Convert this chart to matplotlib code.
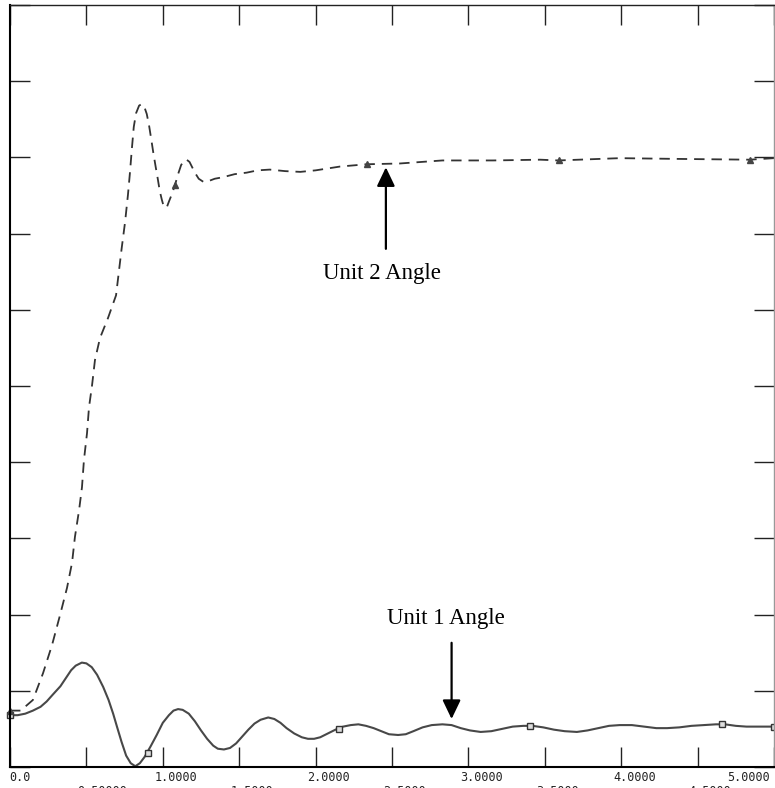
import matplotlib
matplotlib.use('Agg')
import matplotlib.pyplot as plt
from matplotlib.transforms import offset_copy

# unit 1 angle (solid)
u1_t = [0.00, 0.05, 0.10, 0.15, 0.20, 0.24, 0.28, 0.33, 0.37, 0.40, 0.43, 0.47,
        0.50, 0.535, 0.57, 0.61, 0.645, 0.675, 0.70, 0.73, 0.76, 0.79, 0.82,
        0.85, 0.88, 0.92, 0.96, 1.00, 1.04, 1.07, 1.10, 1.13, 1.17, 1.21, 1.25,
        1.29, 1.33, 1.36, 1.40, 1.44, 1.48, 1.52, 1.56, 1.60, 1.64, 1.69, 1.73,
        1.77, 1.81, 1.86, 1.91, 1.95, 1.99, 2.03, 2.08, 2.13, 2.18, 2.23, 2.28,
        2.33, 2.38, 2.43, 2.48, 2.54, 2.59, 2.64, 2.70, 2.76, 2.83, 2.89, 2.95,
        3.01, 3.08, 3.15, 3.22, 3.29, 3.36, 3.42, 3.49, 3.56, 3.63, 3.71, 3.78,
        3.85, 3.92, 3.99, 4.07, 4.15, 4.23, 4.30, 4.38, 4.46, 4.54, 4.62, 4.68,
        4.75, 4.82, 4.90, 5.00]
u1_y = [0.68, 0.68, 0.70, 0.74, 0.79, 0.86, 0.95, 1.06, 1.18, 1.27, 1.33, 1.37,
        1.36, 1.31, 1.21, 1.05, 0.88, 0.70, 0.53, 0.33, 0.15, 0.05, 0.01,
        0.05, 0.13, 0.27, 0.42, 0.58, 0.68, 0.74, 0.76, 0.75, 0.70, 0.60, 0.48,
        0.37, 0.28, 0.24, 0.23, 0.25, 0.31, 0.40, 0.49, 0.57, 0.62, 0.65, 0.63,
        0.58, 0.51, 0.44, 0.39, 0.37, 0.37, 0.39, 0.44, 0.49, 0.53, 0.55, 0.56,
        0.54, 0.51, 0.47, 0.43, 0.42, 0.43, 0.47, 0.52, 0.55, 0.56, 0.55, 0.51,
        0.48, 0.46, 0.47, 0.50, 0.53, 0.54, 0.54, 0.52, 0.49, 0.47, 0.46, 0.48,
        0.51, 0.54, 0.55, 0.55, 0.53, 0.51, 0.51, 0.52, 0.54, 0.55, 0.56, 0.56,
        0.54, 0.53, 0.53, 0.53]
u1_mark_t = [0.00, 0.90, 2.15, 3.40, 4.66, 5.00]
u1_mark_y = [0.68, 0.19, 0.50, 0.54, 0.56, 0.53]

# unit 2 angle (dashed)
u2_t = [0.00, 0.07, 0.15, 0.216, 0.275, 0.327, 0.373, 0.406, 0.425, 0.452, 0.471,
        0.484, 0.504, 0.517, 0.537, 0.556, 0.589, 0.641, 0.694, 0.731, 0.753,
        0.772, 0.785, 0.797, 0.810, 0.825, 0.845, 0.862, 0.878, 0.895, 0.910,
        0.925, 0.938, 0.953, 0.967, 0.980, 0.993, 1.004, 1.014, 1.027, 1.04,
        1.06, 1.08, 1.10, 1.12, 1.14, 1.156, 1.175, 1.19, 1.21, 1.235, 1.265,
        1.30, 1.34, 1.394, 1.47, 1.549, 1.62, 1.70, 1.80, 1.90, 2.00, 2.16,
        2.334, 2.55, 2.83, 3.16, 3.47, 3.59, 3.99, 4.38, 4.84, 5.00]
u2_y = [0.74, 0.74, 0.88, 1.23, 1.60, 1.99, 2.35, 2.68, 3.02, 3.37, 3.67,
        4.03, 4.38, 4.72, 5.01, 5.34, 5.63, 5.89, 6.19, 6.81, 7.15,
        7.51, 7.80, 8.10, 8.40, 8.58, 8.68, 8.70, 8.67, 8.57, 8.42,
        8.23, 8.06, 7.88, 7.72, 7.56, 7.45, 7.37, 7.34, 7.35, 7.42,
        7.52, 7.64, 7.78, 7.90, 7.96, 7.97, 7.94, 7.88, 7.80, 7.72, 7.68,
        7.69, 7.72, 7.74, 7.78, 7.80, 7.83, 7.84, 7.82, 7.81, 7.83, 7.88,
        7.91, 7.92, 7.96, 7.96, 7.97, 7.96, 7.99, 7.98, 7.97, 7.99]
u2_mark_t = [0.00, 1.08, 2.334, 3.59, 4.84]
u2_mark_y = [0.74, 7.64, 7.91, 7.96, 7.97]

x_ticks = [0.0, 0.5, 1.0, 1.5, 2.0, 2.5, 3.0, 3.5, 4.0, 4.5, 5.0]
y_ticks = [0, 1, 2, 3, 4, 5, 6, 7, 8, 9, 10]
row1_pos = [0.0, 1.0, 2.0, 3.0, 4.0, 5.0]
row1_lab = ['0.0', '1.0000', '2.0000', '3.0000', '4.0000', '5.0000']
row2_pos = [0.5, 1.5, 2.5, 3.5, 4.5]
row2_lab = ['0.50000', '1.5000', '2.5000', '3.5000', '4.5000']

plt.rcParams['lines.scale_dashes'] = False

fig = plt.figure(figsize=(7.75, 7.88), dpi=100)
ax = fig.add_axes([10 / 775, 21 / 788, 764 / 775, 762 / 788])
ax.set_xlim(0, 5)
ax.set_ylim(0, 10)

ax.plot(u1_t, u1_y, color='#484848', lw=1.5, clip_on=False)
ax.plot(u1_mark_t, u1_mark_y, ls='none', marker='s', ms=5, mfc='#dddddd',
        mec='#333333', mew=1.0, clip_on=False)
ax.plot(u2_t, u2_y, color='#333333', lw=1.3, dashes=(7.5, 5.0), clip_on=False)
ax.plot(u2_mark_t, u2_mark_y, ls='none', marker='^', ms=4, color='#444444',
        clip_on=False)

ax.set_xticks(x_ticks)
ax.set_yticks(y_ticks)
ax.tick_params(direction='in', length=14.4, width=1.0, color='#222222',
               top=True, right=True, labelbottom=False, labelleft=False)

for side in ['left', 'bottom']:
    ax.spines[side].set_linewidth(1.5)
    ax.spines[side].set_color('black')
ax.spines['top'].set_linewidth(1.0)
ax.spines['top'].set_color('#222222')
ax.spines['right'].set_linewidth(1.0)
ax.spines['right'].set_color('#999999')

# staggered tick labels under the axis (second row is cut by the edge, as in the source)
base = ax.get_xaxis_transform()
mono = dict(family='DejaVu Sans Mono', fontsize=8.5, color='#222222', va='top')
for p, s in zip(row1_pos, row1_lab):
    if p == 0.0:
        tr = offset_copy(base, fig=fig, x=-1, y=-4, units='dots')
        ax.text(p, 0, s, transform=tr, ha='left', clip_on=False, **mono)
    elif p == 5.0:
        tr = offset_copy(base, fig=fig, x=-4, y=-4, units='dots')
        ax.text(p, 0, s, transform=tr, ha='right', clip_on=False, **mono)
    else:
        tr = offset_copy(base, fig=fig, x=-8, y=-4, units='dots')
        ax.text(p, 0, s, transform=tr, ha='left', clip_on=False, **mono)
for p, s in zip(row2_pos, row2_lab):
    tr = offset_copy(base, fig=fig, x=-9, y=-18, units='dots')
    ax.text(p, 0, s, transform=tr, ha='left', clip_on=False, **mono)

# annotations
arrow = dict(arrowstyle='-|>,head_length=1.15,head_width=0.55', color='black',
             lw=1.6, mutation_scale=10, shrinkA=0, shrinkB=0)
ax.annotate('', xy=(2.46, 7.87), xytext=(2.46, 6.80), arrowprops=arrow)
ax.text(2.435, 6.47, 'Unit 2 Angle', family='Liberation Serif', fontsize=16.5,
        ha='center', va='center')
ax.annotate('', xy=(2.89, 0.63), xytext=(2.89, 1.63), arrowprops=arrow)
ax.text(2.853, 1.955, 'Unit 1 Angle', family='Liberation Serif', fontsize=16.5,
        ha='center', va='center')

fig.savefig('out.png', dpi=100)
